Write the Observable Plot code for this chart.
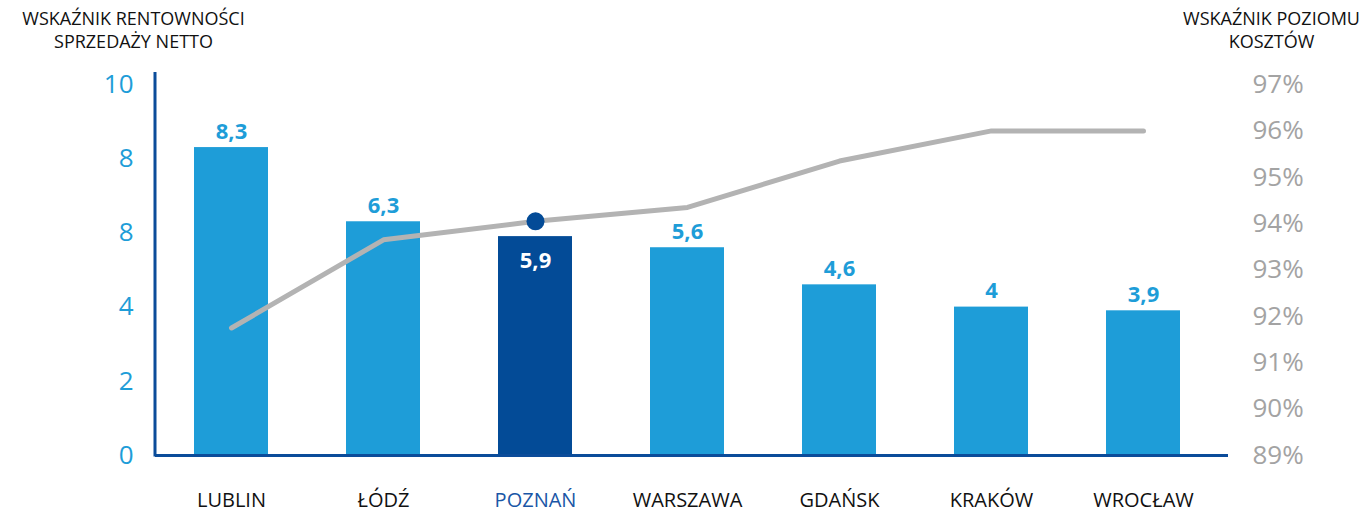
<!DOCTYPE html>
<html><head><meta charset="utf-8">
<script src="https://cdn.jsdelivr.net/npm/d3@7"></script>
<script src="https://cdn.jsdelivr.net/npm/@observablehq/plot@0.6"></script>
<style>body{margin:0;background:#fff;} svg{display:block;}</style>
</head><body><div id="chart"></div>
<script>
const cities = ["LUBLIN","ŁÓDŹ","POZNAŃ","WARSZAWA","GDAŃSK","KRAKÓW","WROCŁAW"];
const profitability = [8.3, 6.3, 5.9, 5.6, 4.6, 4.0, 3.9];
const costLevel = [91.75, 93.65, 94.05, 94.35, 95.35, 96.0, 96.0];
const leftTicks = [0, 2, 4, 6, 8, 10];
const leftTickLabels = ["0", "2", "4", "8", "8", "10"];
const rightTicks = [89, 90, 91, 92, 93, 94, 95, 96, 97];
const rightTickLabels = ["89%", "90%", "91%", "92%", "93%", "94%", "95%", "96%", "97%"];
const highlight = "POZNAŃ";
const leftTitle = "WSKAŹNIK RENTOWNOŚCI\nSPRZEDAŻY NETTO";
const rightTitle = "WSKAŹNIK POZIOMU\nKOSZTÓW";

const light = "#1e9dd8", dark = "#034b97", axisColor = "#0b4c9a", gray = "#b3b3b3";
const rMin = rightTicks[0], rMax = rightTicks[rightTicks.length - 1];
const toLeft = v => (v - rMin) * 10 / (rMax - rMin);

const data = cities.map((c, i) => ({city: c, value: profitability[i], cost: costLevel[i], costY: toLeft(costLevel[i])}));
const fmt = v => String(v).replace(".", ",");
const isHi = d => d.city === highlight;

const leftLine = (index, scales, values, dims) => {
  const g = d3.create("svg:g");
  g.append("line")
    .attr("x1", dims.marginLeft).attr("x2", dims.marginLeft)
    .attr("y1", dims.marginTop - 12).attr("y2", dims.height - dims.marginBottom + 1.5)
    .attr("stroke", axisColor).attr("stroke-width", 3);
  return g.node();
};

const chart = Plot.plot({
  width: 1363, height: 515,
  marginLeft: 155, marginRight: 144, marginTop: 84, marginBottom: 60,
  style: {fontFamily: "'Open Sans', sans-serif", background: "#fff"},
  x: {domain: cities, paddingInner: 0.513, paddingOuter: 0.2565, align: 0.5},
  y: {domain: [0, 10]},
  color: {type: "identity"},
  marks: [
    Plot.barY(data, {x: "city", y: "value", fill: d => isHi(d) ? dark : light}),
    Plot.ruleY([0], {stroke: axisColor, strokeWidth: 3, insetRight: -9}),
    leftLine,
    Plot.line(data, {x: "city", y: "costY", stroke: gray, strokeWidth: 5}),
    Plot.dot(data.filter(isHi), {x: "city", y: "costY", r: 9, fill: dark}),
    Plot.text(data.filter(d => !isHi(d)), {x: "city", y: "value", text: d => fmt(d.value),
      dy: -16, fill: light, fontWeight: "bold", fontSize: 22}),
    Plot.text(data.filter(isHi), {x: "city", y: "value", text: d => fmt(d.value),
      dy: 24, fill: "#fff", fontWeight: "bold", fontSize: 22}),
    Plot.axisY({ticks: leftTicks, tickFormat: d => leftTickLabels[leftTicks.indexOf(d)],
      tickSize: 0, tickPadding: 22, fontSize: 26, fill: light, label: null}),
    Plot.axisY({anchor: "right", ticks: rightTicks.map(toLeft),
      tickFormat: d => rightTickLabels[rightTicks.map(toLeft).indexOf(d)],
      tickSize: 0, tickPadding: 33, fontSize: 26, fill: "#a3a3a3", label: null}),
    Plot.axisX({tickSize: 0, tickPadding: 37, fontSize: 20, label: null,
      fill: d => d === highlight ? "#1a56a6" : "#111"}),
    Plot.text([leftTitle], {frameAnchor: "top-left", dx: -22, dy: -75, textAnchor: "middle",
      lineAnchor: "top", fontSize: 18, fill: "#111", lineHeight: 1.25}),
    Plot.text([rightTitle], {frameAnchor: "top-right", dx: 52, dy: -75, textAnchor: "middle",
      lineAnchor: "top", fontSize: 18, fill: "#111", lineHeight: 1.25})
  ]
});
document.getElementById("chart").appendChild(chart);
</script>
</body></html>
